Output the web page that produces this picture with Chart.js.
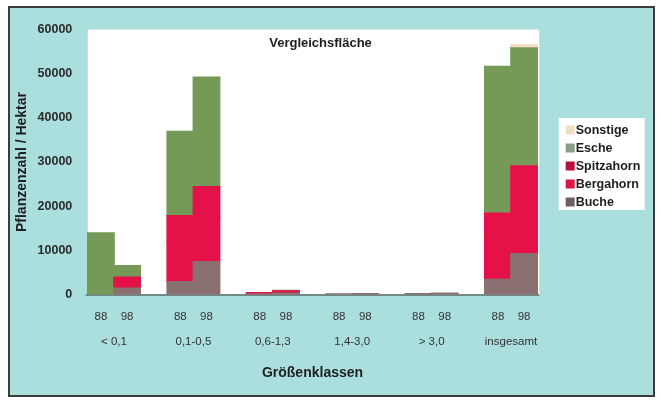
<!DOCTYPE html>
<html>
<head>
<meta charset="utf-8">
<script src="https://cdn.jsdelivr.net/npm/chart.js@4/dist/chart.umd.min.js"></script>
<style>
html, body { margin: 0; padding: 0; background: #fff; }
canvas { display: block; }
</style>
</head>
<body>
<canvas id="chart" width="657" height="402"></canvas>
<script>
var groups = ['< 0,1', '0,1-0,5', '0,6-1,3', '1,4-3,0', '> 3,0', 'insgesamt'];
var years = ['88', '98'];
var species = ['Buche', 'Bergahorn', 'Spitzahorn', 'Esche', 'Sonstige'];
var yTicks = [0, 10000, 20000, 30000, 40000, 50000, 60000];

// Pflanzen / ha, je Größenklasse (88 = 1988, 98 = 1998)
var buche88 = [0, 2900, 100, 100, 150, 3400];
var buche98 = [1400, 7400, 300, 150, 250, 9200];
var bergahorn88 = [0, 9000, 200, 0, 0, 9100];
var bergahorn98 = [1500, 10000, 300, 0, 0, 11500];
var spitzahorn88 = [0, 5900, 100, 0, 0, 5900];
var spitzahorn98 = [1000, 7000, 200, 0, 0, 8400];
var esche88 = [13900, 19100, 0, 0, 0, 33200];
var esche98 = [2600, 24800, 100, 0, 0, 26700];
var sonstige88 = [0, 0, 0, 0, 0, 0];
var sonstige98 = [0, 0, 0, 0, 0, 700];

var values = [[buche88, buche98], [bergahorn88, bergahorn98], [spitzahorn88, spitzahorn98], [esche88, esche98], [sonstige88, sonstige98]];
var barColors = ['#8a7070', '#e51249', '#e51249', '#759a58', '#f0dcc0'];
var swatchColors = ['#6e5e62', '#d81448', '#b8103c', '#8c9a88', '#efe0c4'];

var FONT = '"Liberation Sans", Arial, sans-serif';
Chart.defaults.font.family = FONT;
Chart.defaults.color = '#2a2a2a';

var datasets = [];
species.forEach(function(name, s){
	years.forEach(function(yr, k){
		datasets.push({
			label: name, data: values[s][k], stack: yr, backgroundColor: barColors[s], borderWidth: 0,
			inflateAmount: function(c){ return c.raw ? 0.8 : 0; }
		});
	});
});

var backdrop = {
	id: 'backdrop',
	beforeDraw: function(chart){
		var ctx = chart.ctx, y = chart.scales.y;
		var first = chart.getDatasetMeta(0).data[0];
		var last = chart.getDatasetMeta(datasets.length - 1).data[groups.length - 1];
		var wl = first.x - first.width / 2, wr = last.x + last.width / 2;
		var top = y.getPixelForValue(y.max), bottom = y.getPixelForValue(0);
		ctx.save();
		ctx.fillStyle = '#fff';
		ctx.fillRect(0, 0, chart.width, chart.height);
		ctx.fillStyle = '#aadfdd';
		ctx.fillRect(9, 7, 645, 389);
		ctx.strokeStyle = '#3c3c3c';
		ctx.lineWidth = 2;
		ctx.strokeRect(9, 7, 645, 389);
		ctx.fillStyle = '#fff';
		ctx.fillRect(wl, top, wr - wl + 2, bottom - top);
		ctx.strokeStyle = '#5a6a6a';
		ctx.lineWidth = 1.5;
		ctx.beginPath();
		ctx.moveTo(wl - 2, bottom + 0.5);
		ctx.lineTo(wr + 2, bottom + 0.5);
		ctx.stroke();
		ctx.restore();
	},
	afterDraw: function(chart){
		var ctx = chart.ctx, a = chart.chartArea;
		ctx.save();
		ctx.fillStyle = '#1e1e1e';
		ctx.textAlign = 'center';
		ctx.textBaseline = 'middle';
		ctx.font = 'bold 13px ' + FONT;
		ctx.fillText('Vergleichsfläche', (a.left + a.right) / 2 + 8, a.top + 14);

		// Jahresbeschriftung unter den Säulen
		ctx.font = '11.5px ' + FONT;
		ctx.fillStyle = '#333';
		years.forEach(function(yr, k){
			chart.getDatasetMeta(k).data.forEach(function(bar){
				ctx.fillText(yr, bar.x, a.bottom + 22);
			});
		});

		// Legende
		var lx = a.right + 8, ly = (a.top + a.bottom) / 2 - 44;
		ctx.fillStyle = '#fff';
		ctx.fillRect(lx, ly, 86, 92);
		ctx.font = 'bold 12.5px ' + FONT;
		ctx.textAlign = 'left';
		for (var i = species.length - 1, row = 0; i >= 0; i--, row++) {
			var cy = ly + 12 + row * 18;
			ctx.fillStyle = swatchColors[i];
			ctx.fillRect(lx + 7, cy - 4.5, 9, 9);
			ctx.fillStyle = '#1e1e1e';
			ctx.fillText(species[i], lx + 17, cy + 0.5);
		}
		ctx.restore();
	}
};

var ctx = document.getElementById('chart').getContext('2d');
window.myChart = new Chart(ctx, {
	type: 'bar',
	data: { labels: groups, datasets: datasets },
	options: {
		responsive: false,
		animation: false,
		layout: { padding: { left: 8, top: 29.5, right: 106.3, bottom: 10 } },
		categoryPercentage: 0.66,
		barPercentage: 1,
		plugins: { legend: { display: false }, tooltip: { enabled: false } },
		scales: {
			x: {
				stacked: true,
				grid: { display: false, drawTicks: false },
				border: { display: false },
				ticks: { padding: 40, font: { size: 11.5 }, color: '#333', maxRotation: 0 },
				title: { display: true, text: 'Größenklassen', font: { size: 14, weight: 'bold' }, color: '#1e1e1e', padding: { top: 0, bottom: 10.6 } },
				afterFit: function(s){ s.height = 97.5; }
			},
			y: {
				stacked: true,
				min: 0,
				max: 60000,
				afterBuildTicks: function(s){ s.ticks = yTicks.map(function(v){ return { value: v }; }); },
				grid: { display: false, drawTicks: false },
				border: { display: false },
				ticks: { padding: 2, font: { size: 12.5, weight: 'bold' }, color: '#2a2a2a', callback: function(v){ return String(v); } },
				title: { display: true, text: 'Pflanzenzahl / Hektar', font: { size: 14, weight: 'bold' }, color: '#1e1e1e', padding: { top: 5.6, bottom: 0 } },
				afterFit: function(s){ s.width = 66.3; }
			}
		}
	},
	plugins: [backdrop]
});
</script>
</body>
</html>
